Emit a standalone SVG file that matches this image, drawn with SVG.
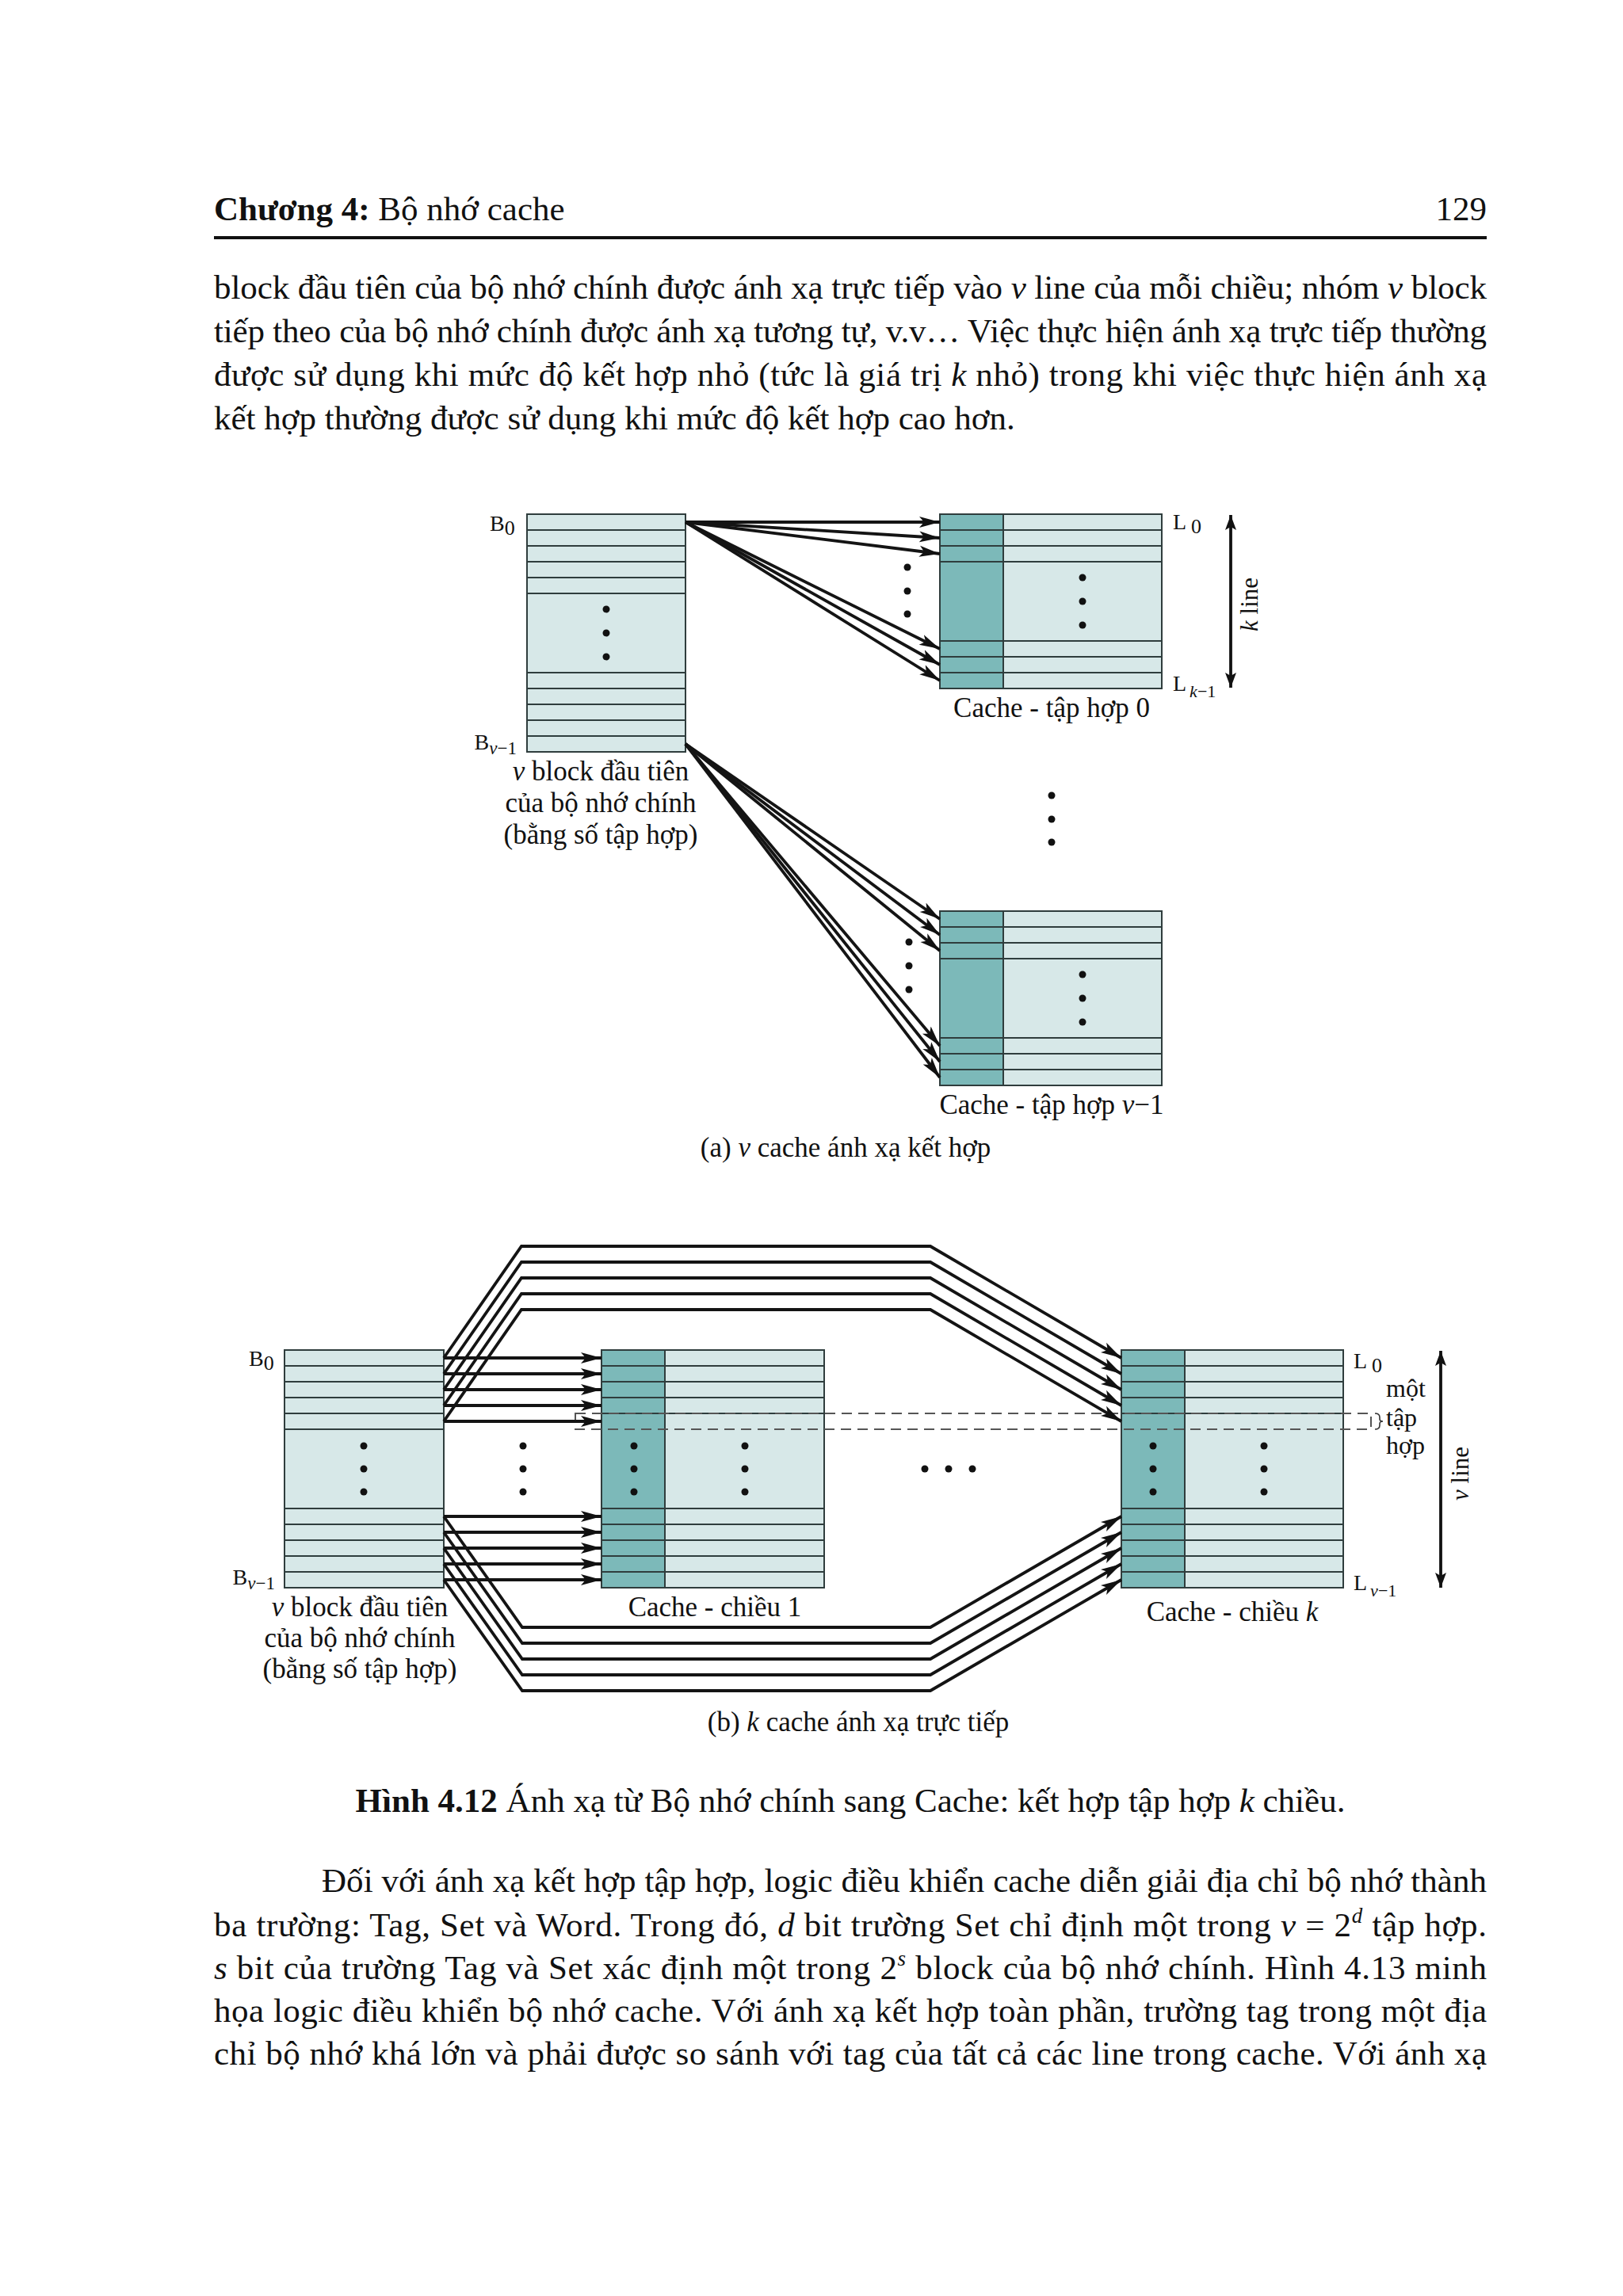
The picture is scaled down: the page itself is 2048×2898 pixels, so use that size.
<svg xmlns="http://www.w3.org/2000/svg" width="2048" height="2898" viewBox="0 0 2048 2898">
<style>
.t{font-family:"Liberation Serif","Times New Roman",serif;fill:#111}
.body{font-size:43px}
.lab{font-size:35px}
.bl{font-size:28px}
.i{font-style:italic}
.b{font-weight:bold}
.lt{fill:#d7e8e8;stroke:#2f3d3d;stroke-width:2}
.tg{fill:#7cb9b9;stroke:#2f3d3d;stroke-width:2}
.rl{stroke:#2f3d3d;stroke-width:2}
.ar{fill:none;stroke:#141414;stroke-width:3.8}
.dl{fill:none;stroke:#555;stroke-width:2;stroke-dasharray:13 8}
.dot{fill:#111}
</style>
<defs>
<marker id="ah" markerUnits="userSpaceOnUse" viewBox="0 0 27 16" markerWidth="27" markerHeight="16" refX="26" refY="8" orient="auto"><path d="M0,1 L26,8 L0,15 L6,8 z" fill="#111"/></marker>
<marker id="dh" markerUnits="userSpaceOnUse" viewBox="0 0 20 16" markerWidth="20" markerHeight="16" refX="19" refY="8" orient="auto-start-reverse"><path d="M0,1 L19,8 L0,15 L4,8 z" fill="#111"/></marker>
</defs>
<rect width="2048" height="2898" fill="#fff"/>

<g id="header">
<text class="t body" x="270" y="278"><tspan class="b">Chương 4:</tspan> Bộ nhớ cache</text>
<text class="t body" x="1876" y="278" text-anchor="end">129</text>
<rect x="270" y="298" width="1606" height="4" fill="#111"/>
</g>

<g id="paragraph1" class="t body">
<text x="270" y="377" textLength="1606" lengthAdjust="spacing">block đầu tiên của bộ nhớ chính được ánh xạ trực tiếp vào <tspan class="i">v</tspan> line của mỗi chiều; nhóm <tspan class="i">v</tspan> block</text>
<text x="270" y="432" textLength="1606" lengthAdjust="spacing">tiếp theo của bộ nhớ chính được ánh xạ tương tự, v.v… Việc thực hiện ánh xạ trực tiếp thường</text>
<text x="270" y="487" textLength="1606" lengthAdjust="spacing">được sử dụng khi mức độ kết hợp nhỏ (tức là giá trị <tspan class="i">k</tspan> nhỏ) trong khi việc thực hiện ánh xạ</text>
<text x="270" y="542">kết hợp thường được sử dụng khi mức độ kết hợp cao hơn.</text>
</g>

<!-- Figure (a) -->
<g id="a-main-memory">
<rect class="lt" x="665" y="649" width="200" height="300"/>
<path class="rl" d="M665,669H865M665,689H865M665,709H865M665,729H865M665,749H865M665,849H865M665,869H865M665,889H865M665,909H865M665,929H865"/>
<circle class="dot" cx="765" cy="769" r="4.5"/><circle class="dot" cx="765" cy="799" r="4.5"/><circle class="dot" cx="765" cy="829" r="4.5"/>
</g>

<g id="a-cache-set-0">
<rect class="lt" x="1186" y="649" width="280" height="220"/>
<rect class="tg" x="1186" y="649" width="80" height="220"/>
<path class="rl" d="M1186,669H1466M1186,689H1466M1186,709H1466M1186,809H1466M1186,829H1466M1186,849H1466"/>
<circle class="dot" cx="1366" cy="729" r="4.5"/><circle class="dot" cx="1366" cy="759" r="4.5"/><circle class="dot" cx="1366" cy="789" r="4.5"/>
</g>

<g id="a-cache-set-v-1">
<rect class="lt" x="1186" y="1150" width="280" height="220"/>
<rect class="tg" x="1186" y="1150" width="80" height="220"/>
<path class="rl" d="M1186,1170H1466M1186,1190H1466M1186,1210H1466M1186,1310H1466M1186,1330H1466M1186,1350H1466"/>
<circle class="dot" cx="1366" cy="1230" r="4.5"/><circle class="dot" cx="1366" cy="1260" r="4.5"/><circle class="dot" cx="1366" cy="1290" r="4.5"/>
</g>

<g id="a-connectors">
<path class="ar" marker-end="url(#ah)" d="M865,659L1186,659"/>
<path class="ar" marker-end="url(#ah)" d="M865,659L1186,679"/>
<path class="ar" marker-end="url(#ah)" d="M865,659L1186,699"/>
<path class="ar" marker-end="url(#ah)" d="M865,659L1186,819"/>
<path class="ar" marker-end="url(#ah)" d="M865,659L1186,839"/>
<path class="ar" marker-end="url(#ah)" d="M865,659L1186,859"/>
<path class="ar" marker-end="url(#ah)" d="M865,939L1186,1160"/>
<path class="ar" marker-end="url(#ah)" d="M865,939L1186,1180"/>
<path class="ar" marker-end="url(#ah)" d="M865,939L1186,1200"/>
<path class="ar" marker-end="url(#ah)" d="M865,939L1186,1320"/>
<path class="ar" marker-end="url(#ah)" d="M865,939L1186,1340"/>
<path class="ar" marker-end="url(#ah)" d="M865,939L1186,1360"/>
<path fill="none" stroke="#111" stroke-width="3.8" marker-start="url(#dh)" marker-end="url(#dh)" d="M1553,650V868"/>
</g>

<g id="a-labels" class="t">
<circle class="dot" cx="1145" cy="716" r="4.5"/><circle class="dot" cx="1145" cy="746" r="4.5"/><circle class="dot" cx="1145" cy="775" r="4.5"/>
<circle class="dot" cx="1147" cy="1189" r="4.5"/><circle class="dot" cx="1147" cy="1219" r="4.5"/><circle class="dot" cx="1147" cy="1249" r="4.5"/>
<circle class="dot" cx="1327" cy="1004" r="4.5"/><circle class="dot" cx="1327" cy="1034" r="4.5"/><circle class="dot" cx="1327" cy="1063" r="4.5"/>
<text class="bl" x="618" y="670">B<tspan font-size="26" dy="5">0</tspan></text>
<text class="bl" x="652" y="946" text-anchor="end">B<tspan class="i" font-size="23" dy="6">v</tspan><tspan font-size="23">−1</tspan></text>
<text class="bl" x="1480" y="668">L<tspan font-size="26" dx="6" dy="5">0</tspan></text>
<text class="bl" x="1480" y="872">L<tspan class="i" font-size="22" dx="4" dy="8">k</tspan><tspan font-size="22">−1</tspan></text>
<text font-size="31" transform="translate(1587,763) rotate(-90)" text-anchor="middle"><tspan class="i">k</tspan> line</text>
<text class="lab" x="1327" y="905" text-anchor="middle">Cache - tập hợp 0</text>
<text class="lab" x="1327" y="1406" text-anchor="middle">Cache - tập hợp <tspan class="i">v</tspan>−1</text>
<text class="lab" x="758" y="985" text-anchor="middle"><tspan class="i">v</tspan> block đầu tiên</text>
<text class="lab" x="758" y="1025" text-anchor="middle">của bộ nhớ chính</text>
<text class="lab" x="758" y="1065" text-anchor="middle">(bằng số tập hợp)</text>
<text class="lab" x="1067" y="1460" text-anchor="middle">(a) <tspan class="i">v</tspan> cache ánh xạ kết hợp</text>
</g>

<!-- Figure (b) -->
<g id="b-main-memory">
<rect class="lt" x="359" y="1704" width="201" height="300"/>
<path class="rl" d="M359,1724H560M359,1744H560M359,1764H560M359,1784H560M359,1804H560M359,1904H560M359,1924H560M359,1944H560M359,1964H560M359,1984H560"/>
<circle class="dot" cx="459" cy="1825" r="4.5"/><circle class="dot" cx="459" cy="1854" r="4.5"/><circle class="dot" cx="459" cy="1883" r="4.5"/>
</g>

<g id="b-cache-way-1">
<rect class="lt" x="759" y="1704" width="281" height="300"/>
<rect class="tg" x="759" y="1704" width="80" height="300"/>
<path class="rl" d="M759,1724H1040M759,1744H1040M759,1764H1040M759,1784H1040M759,1904H1040M759,1924H1040M759,1944H1040M759,1964H1040M759,1984H1040"/>
<circle class="dot" cx="800" cy="1825" r="4.5"/><circle class="dot" cx="800" cy="1854" r="4.5"/><circle class="dot" cx="800" cy="1883" r="4.5"/>
<circle class="dot" cx="940" cy="1825" r="4.5"/><circle class="dot" cx="940" cy="1854" r="4.5"/><circle class="dot" cx="940" cy="1883" r="4.5"/>
</g>

<g id="b-cache-way-k">
<rect class="lt" x="1415" y="1704" width="280" height="300"/>
<rect class="tg" x="1415" y="1704" width="80" height="300"/>
<path class="rl" d="M1415,1724H1695M1415,1744H1695M1415,1764H1695M1415,1784H1695M1415,1904H1695M1415,1924H1695M1415,1944H1695M1415,1964H1695M1415,1984H1695"/>
<circle class="dot" cx="1455" cy="1825" r="4.5"/><circle class="dot" cx="1455" cy="1854" r="4.5"/><circle class="dot" cx="1455" cy="1883" r="4.5"/>
<circle class="dot" cx="1595" cy="1825" r="4.5"/><circle class="dot" cx="1595" cy="1854" r="4.5"/><circle class="dot" cx="1595" cy="1883" r="4.5"/>
</g>

<g id="b-set-outline">
<rect class="dl" x="726" y="1784" width="1004" height="20"/>
<path fill="none" stroke="#333" stroke-width="1.6" d="M1735,1784q6,0 6,5v2q0,3 4,3q-4,0 -4,3v2q0,5 -6,5"/>
</g>

<g id="b-connectors">
<path class="ar" marker-end="url(#ah)" d="M560,1714H759"/>
<path class="ar" marker-end="url(#ah)" d="M560,1734H759"/>
<path class="ar" marker-end="url(#ah)" d="M560,1754H759"/>
<path class="ar" marker-end="url(#ah)" d="M560,1774H759"/>
<path class="ar" marker-end="url(#ah)" d="M560,1794H759"/>
<path class="ar" marker-end="url(#ah)" d="M560,1914H759"/>
<path class="ar" marker-end="url(#ah)" d="M560,1934H759"/>
<path class="ar" marker-end="url(#ah)" d="M560,1954H759"/>
<path class="ar" marker-end="url(#ah)" d="M560,1974H759"/>
<path class="ar" marker-end="url(#ah)" d="M560,1994H759"/>
<path class="ar" marker-end="url(#ah)" d="M560,1714L658,1573H1174L1415,1714"/>
<path class="ar" marker-end="url(#ah)" d="M560,1734L658,1593H1174L1415,1734"/>
<path class="ar" marker-end="url(#ah)" d="M560,1754L658,1613H1174L1415,1754"/>
<path class="ar" marker-end="url(#ah)" d="M560,1774L658,1633H1174L1415,1774"/>
<path class="ar" marker-end="url(#ah)" d="M560,1794L658,1653H1174L1415,1794"/>
<path class="ar" marker-end="url(#ah)" d="M560,1914L659,2054H1174L1415,1914"/>
<path class="ar" marker-end="url(#ah)" d="M560,1934L659,2074H1174L1415,1934"/>
<path class="ar" marker-end="url(#ah)" d="M560,1954L659,2094H1174L1415,1954"/>
<path class="ar" marker-end="url(#ah)" d="M560,1974L659,2114H1174L1415,1974"/>
<path class="ar" marker-end="url(#ah)" d="M560,1994L659,2134H1174L1415,1994"/>
<path fill="none" stroke="#111" stroke-width="3.8" marker-start="url(#dh)" marker-end="url(#dh)" d="M1818,1705V2004"/>
</g>

<g id="b-labels" class="t">
<circle class="dot" cx="660" cy="1825" r="4.5"/><circle class="dot" cx="660" cy="1854" r="4.5"/><circle class="dot" cx="660" cy="1883" r="4.5"/>
<circle class="dot" cx="1167" cy="1854" r="4.5"/><circle class="dot" cx="1197" cy="1854" r="4.5"/><circle class="dot" cx="1227" cy="1854" r="4.5"/>
<text class="bl" x="314" y="1724">B<tspan font-size="26" dy="5">0</tspan></text>
<text class="bl" x="347" y="2000" text-anchor="end">B<tspan class="i" font-size="23" dy="6">v</tspan><tspan font-size="23">−1</tspan></text>
<text class="bl" x="1708" y="1727">L<tspan font-size="26" dx="6" dy="5">0</tspan></text>
<text class="bl" x="1708" y="2007">L<tspan class="i" font-size="22" dx="4" dy="8">v</tspan><tspan font-size="22">−1</tspan></text>
<text font-size="32" x="1749" y="1763">một</text>
<text font-size="32" x="1749" y="1800">tập</text>
<text font-size="32" x="1749" y="1835">hợp</text>
<text font-size="31" transform="translate(1853,1860) rotate(-90)" text-anchor="middle"><tspan class="i">v</tspan> line</text>
<text class="lab" x="902" y="2040" text-anchor="middle">Cache - chiều 1</text>
<text class="lab" x="1555" y="2046" text-anchor="middle">Cache - chiều <tspan class="i">k</tspan></text>
<text class="lab" x="454" y="2040" text-anchor="middle"><tspan class="i">v</tspan> block đầu tiên</text>
<text class="lab" x="454" y="2079" text-anchor="middle">của bộ nhớ chính</text>
<text class="lab" x="454" y="2118" text-anchor="middle">(bằng số tập hợp)</text>
<text class="lab" x="1083" y="2185" text-anchor="middle">(b) <tspan class="i">k</tspan> cache ánh xạ trực tiếp</text>
</g>

<g id="caption" class="t body">
<text x="1073" y="2287" text-anchor="middle"><tspan class="b">Hình 4.12</tspan> Ánh xạ từ Bộ nhớ chính sang Cache: kết hợp tập hợp <tspan class="i">k</tspan> chiều.</text>
</g>

<g id="paragraph2" class="t body">
<text x="406" y="2388" textLength="1470" lengthAdjust="spacing">Đối với ánh xạ kết hợp tập hợp, logic điều khiển cache diễn giải địa chỉ bộ nhớ thành</text>
<text x="270" y="2444" textLength="1606" lengthAdjust="spacing">ba trường: Tag, Set và Word. Trong đó, <tspan class="i">d</tspan> bit trường Set chỉ định một trong <tspan class="i">v</tspan> = 2<tspan class="i" font-size="27" dy="-17">d</tspan><tspan dy="17"> tập hợp.</tspan></text>
<text x="270" y="2498" textLength="1606" lengthAdjust="spacing"><tspan class="i">s</tspan> bit của trường Tag và Set xác định một trong 2<tspan class="i" font-size="27" dy="-17">s</tspan><tspan dy="17"> block của bộ nhớ chính. Hình 4.13 minh</tspan></text>
<text x="270" y="2552" textLength="1606" lengthAdjust="spacing">họa logic điều khiển bộ nhớ cache. Với ánh xạ kết hợp toàn phần, trường tag trong một địa</text>
<text x="270" y="2606" textLength="1606" lengthAdjust="spacing">chỉ bộ nhớ khá lớn và phải được so sánh với tag của tất cả các line trong cache. Với ánh xạ</text>
</g>
</svg>
